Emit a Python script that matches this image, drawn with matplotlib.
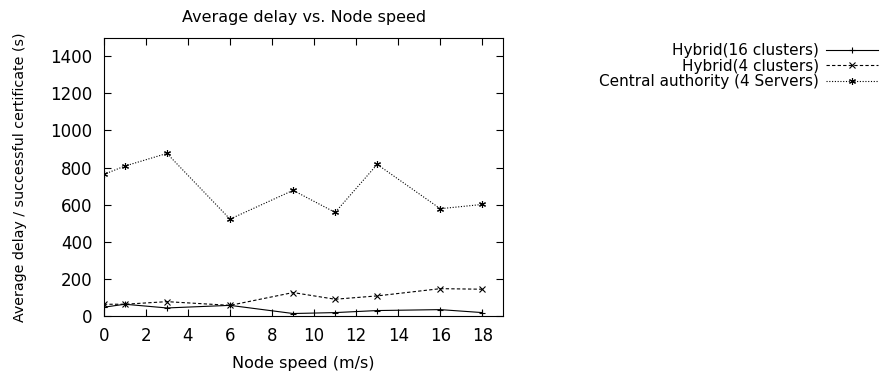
import matplotlib
matplotlib.use("Agg")
import matplotlib.pyplot as plt

# node speed (m/s)
speed = [0, 1, 3, 6, 9, 11, 13, 16, 18]

# average delay per successful certificate (s)
hybrid16 = [47, 63, 43, 57, 13, 18, 29, 34, 18]
hybrid4 = [63, 63, 77, 57, 126, 90, 108, 147, 144]
central = [763, 808, 876, 522, 677, 558, 817, 578, 601]

labels = ["Hybrid(16 clusters)", "Hybrid(4 clusters)", "Central authority (4 Servers)"]

plt.rcParams["font.family"] = ["DejaVu Sans"]
plt.rcParams["font.size"] = 11

fig = plt.figure(figsize=(8.8, 3.73), dpi=100)
ax = fig.add_axes([0.118, 0.153, 0.454, 0.746])

ax.plot(speed, hybrid16, color="black", lw=0.8, ls="-", marker="+", ms=5, mew=0.8,
        label=labels[0])
ax.plot(speed, hybrid4, color="black", lw=0.8, ls=(0, (3, 2)), marker="x", ms=4, mew=0.8,
        label=labels[1])
ax.plot(speed, central, color="black", lw=0.8, ls=(0, (1, 1.5)), marker=(6, 2, 0), ms=5, mew=0.8,
        label=labels[2])

ax.set_xlim(0, 19)
ax.set_ylim(0, 1500)
ax.set_xticks(range(0, 19, 2))
ax.set_yticks(range(0, 1401, 200))
ax.tick_params(direction="in", top=True, right=True, length=5, width=0.8, pad=8,
               labelsize=12)
for s in ax.spines.values():
    s.set_linewidth(0.8)

ax.set_title("Average delay vs. Node speed", fontsize=11.5, pad=11)
ax.set_xlabel("Node speed (m/s)", fontsize=11.5, labelpad=8)
ax.set_ylabel("Average delay / successful certificate (s)", fontsize=10.3, labelpad=17)

fig.legend(loc="upper right", bbox_to_anchor=(0.998, 0.885), frameon=False,
           markerfirst=False, handlelength=3.4, handletextpad=0.5,
           labelspacing=0.05, borderaxespad=0.0, borderpad=0.0)

fig.savefig("out.png", dpi=100)
